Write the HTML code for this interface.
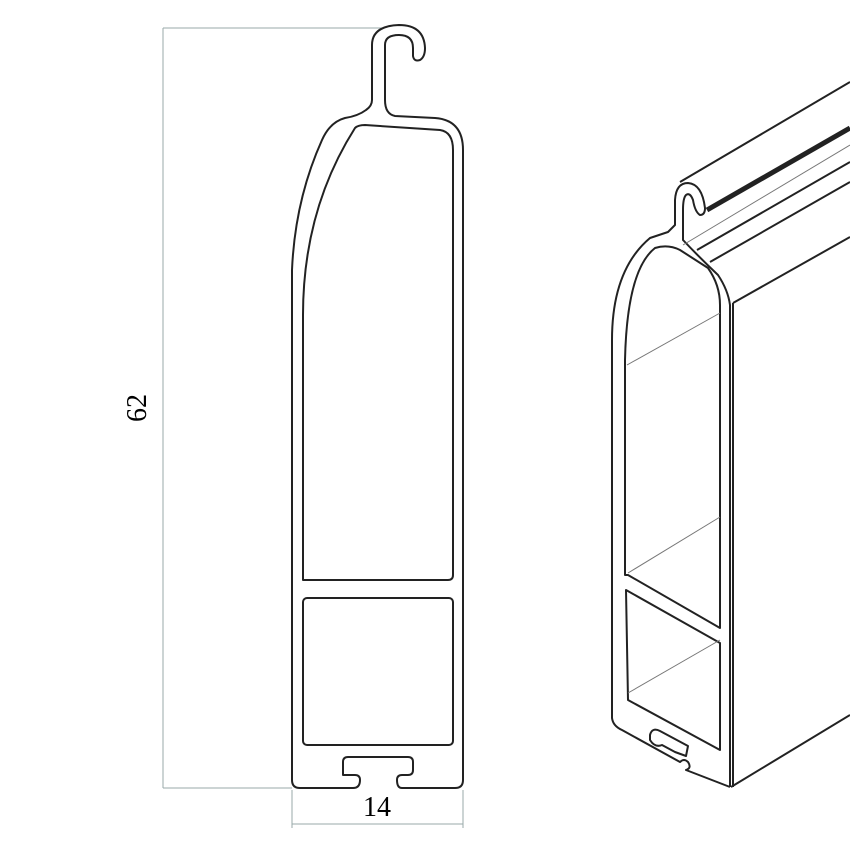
<!DOCTYPE html>
<html><head><meta charset="utf-8"><style>html,body{margin:0;padding:0;background:#fff}svg{display:block}</style></head>
<body>
<svg width="850" height="850" viewBox="0 0 850 850" xmlns="http://www.w3.org/2000/svg">
<g fill="none" stroke="#9aa" stroke-width="1">
<line x1="163" y1="28" x2="163" y2="788"/>
<line x1="163" y1="28" x2="385" y2="28"/>
<line x1="163" y1="788" x2="292" y2="788"/>
<line x1="292" y1="790" x2="292" y2="828"/>
<line x1="463" y1="790" x2="463" y2="828"/>
<line x1="292" y1="824" x2="463" y2="824"/>
</g>
<text x="0" y="0" transform="translate(146,408) rotate(-90)" font-family="Liberation Serif, serif" font-size="28" text-anchor="middle">62</text>
<text x="377" y="816" font-family="Liberation Serif, serif" font-size="28" text-anchor="middle">14</text>
<g fill="none" stroke="#222" stroke-width="2" stroke-linejoin="round">
<path d="M343,775 L343,762 Q343,757 348,757 L408,757 Q413,757 413,762 L413,770 Q413,775 408,775 L402,775 Q397,775 397,780 Q397,788 402,788 L455,788 Q463,788 463,780 L463,150 Q463,120 435,118 L395,116 Q385,114 385,100 L385,45 Q385,35 399,35 Q413,35 413,48 L413,56 Q414,62 420,60 Q425,57 425,48 Q424,25 399,25 Q372,26 372,45 L372,100 Q372,106 366,110 Q358,116 345,118 Q330,122 322,140 Q295,200 292,270 L292,780 Q292,788 300,788 L353,788 Q360,788 360,780 Q360,775 355,775 Z"/>
<path d="M303,580 L303,315 Q303,210 355,128 Q358,125 365,125 L440,130 Q453,132 453,150 L453,575 Q453,580 448,580 Z"/>
<rect x="303" y="598" width="150" height="147" rx="4"/>
</g>
<g fill="none" stroke="#222" stroke-width="2" stroke-linejoin="round">
<line x1="680" y1="182" x2="850" y2="82"/>
<line x1="697" y1="250" x2="850" y2="162"/>
<line x1="710" y1="262" x2="850" y2="182"/>
<line x1="733" y1="303" x2="850" y2="237"/>
<line x1="731" y1="787" x2="850" y2="715"/>
<line x1="733" y1="303" x2="733" y2="787"/>
<path d="M612,340 Q612,270 650,238 L668,232 L675,225 L675,200 Q676,183 688,183 Q702,184 705,208 Q705,215 700,215 Q695,212 693,200 Q690,192 686,195 Q683,198 683,210 L683,240 Q700,258 718,275 Q728,290 730,305 L730,787"/>
<path d="M612,340 L612,718 Q613,726 622,730 L680,762 Q684,758 688,762 Q692,768 686,770 L730,787"/>
<path d="M625,360 Q627,270 655,248 Q668,244 680,250 L708,268 Q720,285 720,305 L720,628 L628,575 L625,575 Z"/>
<path d="M626,590 L720,643 L720,750 L628,700 Z"/>
<path d="M650,735 Q652,727 660,731 L688,746 L686,756 L675,752 L662,745 Q655,748 650,740 Z"/>
</g>
<g stroke="#222" stroke-width="5"><line x1="707" y1="210" x2="850" y2="128"/></g>
<g stroke="#777" stroke-width="1"><line x1="627" y1="365" x2="720" y2="313"/><line x1="628" y1="573" x2="720" y2="517"/><line x1="628" y1="693" x2="720" y2="640"/><line x1="683" y1="245" x2="850" y2="145"/></g>
</svg>
</body></html>
